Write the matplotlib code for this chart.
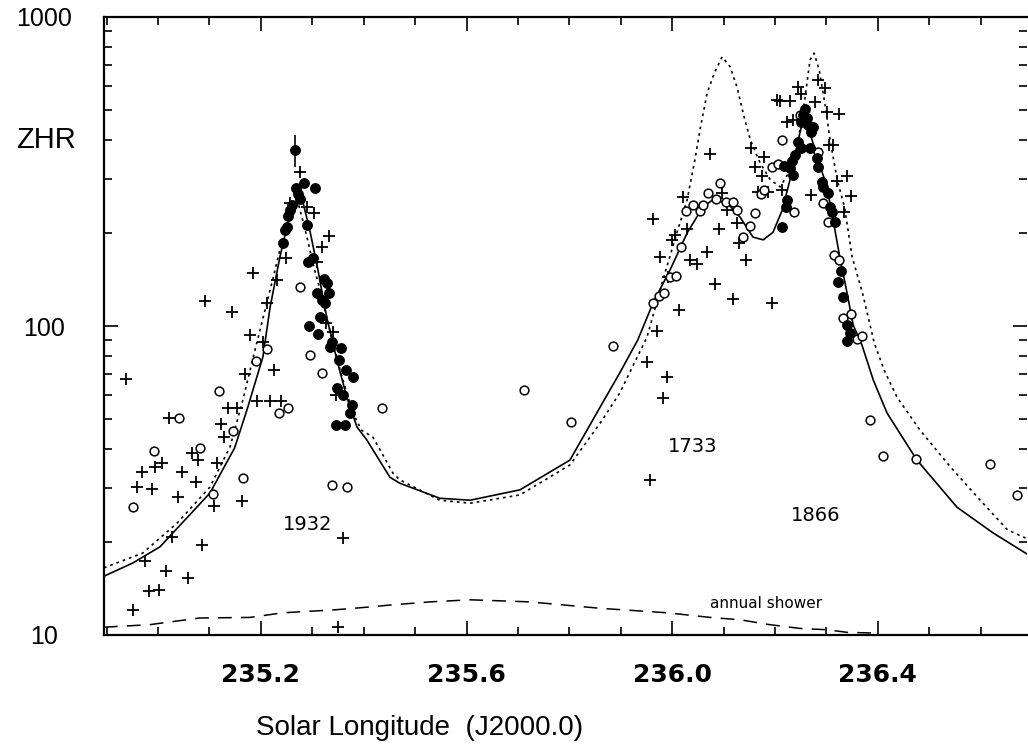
import matplotlib
matplotlib.use("Agg")
import matplotlib.pyplot as plt
from matplotlib.ticker import FixedLocator, MultipleLocator, LogLocator, NullFormatter

plt.rcParams['font.family'] = ['Liberation Sans', 'DejaVu Sans']

# model curves (solar longitude, ZHR)
solid_x = [234.895, 234.951, 235.004, 235.101, 235.149, 235.173, 235.204, 235.218, 235.237,
           235.256, 235.280, 235.295, 235.311, 235.328, 235.348, 235.367, 235.387, 235.406,
           235.451, 235.470, 235.548, 235.607, 235.704, 235.801, 235.860, 235.898, 235.933,
           235.963, 235.996, 236.029, 236.060, 236.079, 236.107, 236.132, 236.157, 236.177,
           236.196, 236.214, 236.229, 236.245, 236.258, 236.272, 236.284, 236.301, 236.313,
           236.326, 236.340, 236.352, 236.369, 236.391, 236.418, 236.476, 236.554, 236.624,
           236.692]
solid_y = [15.5, 17.1, 19.3, 28.8, 40.3, 53.5, 79.4, 115, 167,
           228, 259, 205, 152, 107, 77.6, 58.9, 47.1, 42.8,
           32.4, 31.0, 27.7, 27.3, 29.5, 36.8, 54.7, 70.5, 90.1,
           119, 152, 200, 243, 256, 250, 225, 194, 190,
           201, 237, 297, 400, 489, 400, 344, 282, 220,
           167, 128, 100.7, 86.8, 66.9, 52.2, 36.8, 25.9, 21.4,
           18.2]

dotted_x = [234.895, 234.970, 235.037, 235.101, 235.140, 235.165, 235.192, 235.223, 235.243,
            235.260, 235.272, 235.280, 235.291, 235.301, 235.319, 235.334, 235.354, 235.379,
            235.396, 235.418, 235.457, 235.470, 235.548, 235.607, 235.704, 235.801, 235.860,
            235.898, 235.951, 235.982, 236.009, 236.029, 236.044, 236.054, 236.068, 236.082,
            236.097, 236.113, 236.126, 236.140, 236.152, 236.171, 236.191, 236.210, 236.230,
            236.243, 236.257, 236.268, 236.276, 236.286, 236.298, 236.307, 236.321, 236.335,
            236.350, 236.370, 236.393, 236.412, 236.437, 236.482, 236.541, 236.599, 236.652,
            236.687]
dotted_y = [16.5, 18.4, 23.0, 30.1, 40.6, 57.6, 88.1, 141, 194,
            243, 252, 225, 190, 160, 124, 97, 72.1, 52.2,
            46.0, 43.7, 33.4, 31.8, 27.3, 26.7, 28.4, 35.5, 48.5,
            60.7, 92.1, 141, 200, 256, 344, 431, 568, 659,
            743, 689, 593, 474, 400, 337, 297, 282, 320,
            380, 527, 726, 764, 673, 512, 400, 297, 243,
            167, 128, 88.1, 72.1, 58.9, 46.0, 35.0, 27.3, 21.9,
            20.6]

annual_x = [234.895, 234.984, 235.081, 235.179, 235.243, 235.340, 235.406, 235.451, 235.529,
            235.607, 235.723, 235.860, 235.990, 236.074, 236.132, 236.190, 236.249, 236.301,
            236.340, 236.391]
annual_y = [10.6, 10.8, 11.35, 11.4, 11.8, 12.05, 12.3, 12.5, 12.8,
            13.0, 12.8, 12.2, 11.8, 11.4, 11.2, 10.8, 10.5, 10.4,
            10.2, 10.15]

# observations
plus_x = [234.937, 234.951, 234.959, 234.968, 234.974, 234.982, 235.002, 234.988, 234.994,
          235.007, 235.015, 235.021, 235.027, 235.039, 235.046, 235.058, 235.066, 235.074,
          235.077, 235.085, 235.091, 235.109, 235.114, 235.122, 235.128, 235.136, 235.144,
          235.153, 235.163, 235.169, 235.179, 235.184, 235.192, 235.204, 235.212, 235.218,
          235.225, 235.231, 235.239, 235.249, 235.256, 235.276, 235.289, 235.303, 235.319,
          235.309, 235.332, 235.326, 235.340, 235.346, 235.360, 235.350,
          235.951, 235.957, 235.963, 235.970, 235.976, 235.982, 235.990, 235.992, 236.000,
          236.005, 236.013, 236.021, 236.029, 236.035, 236.048, 236.068, 236.074, 236.083,
          236.091, 236.097, 236.107, 236.118, 236.126, 236.130, 236.144, 236.153, 236.161,
          236.179, 236.175, 236.167, 236.186, 236.194, 236.204, 236.210, 236.229, 236.214,
          236.223, 236.235, 236.245, 236.251, 236.270, 236.278, 236.284, 236.297, 236.301,
          236.305, 236.313, 236.324, 236.321, 236.340, 236.348, 236.334]
plus_y = [67.4, 12.05, 30.1, 33.7, 17.4, 13.9, 14.0, 29.7, 35.0,
          36.0, 16.1, 50.4, 20.8, 28.0, 33.7, 15.3, 38.8, 31.3,
          36.8, 19.56, 120.5, 26.1, 36.0, 48.2, 43.7, 54.3, 111.0,
          54.3, 27.1, 69.9, 93.5, 148.4, 57.2, 88.8, 118.7, 57.2,
          72.05, 140.9, 57.2, 166.1, 250.1, 315.0, 242.8, 232.1, 180.2,
          161.2, 195.6, 102.2, 95.6, 59.8, 20.6, 10.6,
          76.5, 31.74, 222.0, 96.3, 167.3, 58.5, 68.4, 144.0, 189.9,
          197.1, 112.7, 261.5, 206.1, 163.6, 158.8, 173.6, 360.3, 136.7,
          206.1, 269.4, 237.4, 122.3, 215.5, 185.6, 163.6, 376.8, 327.0,
          352.3, 305.8, 271.4, 271.4, 118.7, 538.7, 534.7, 534.7, 275.5,
          457.3, 464.2, 593.5, 563.4, 265.4, 530.8, 625.3, 589.1, 492.6,
          385.2, 385.2, 485.3, 294.7, 305.8, 263.4, 233.9]

open_x = [234.951, 234.992, 235.040, 235.081, 235.107, 235.118, 235.146, 235.165, 235.190,
          235.212, 235.235, 235.253, 235.276, 235.295, 235.319, 235.338, 235.367, 235.435,
          235.712, 235.803, 235.885,
          235.963, 235.974, 235.984, 235.996, 236.007, 236.017, 236.027, 236.040, 236.054,
          236.060, 236.070, 236.085, 236.093, 236.105, 236.118, 236.126, 236.138, 236.151,
          236.161, 236.173, 236.179, 236.194, 236.206, 236.227, 236.214, 236.237, 236.249,
          236.284, 236.293, 236.303, 236.315, 236.324, 236.332, 236.348, 236.360, 236.369,
          236.385, 236.410, 236.474, 236.618, 236.671]
open_y = [26.0, 39.4, 50.4, 40.3, 28.6, 61.6, 45.7, 32.2, 77.0,
          84.3, 52.3, 54.3, 133.7, 80.6, 70.5, 30.6, 30.1, 54.3,
          62.1, 48.9, 86.2,
          118.7, 125.1, 127.9, 144.0, 145.1, 180.2, 235.6, 246.4, 235.6,
          246.4, 269.4, 257.7, 290.3, 252.0, 252.0, 237.4, 194.2, 210.7,
          232.1, 267.4, 275.5, 327.0, 334.4, 327.0, 399.9, 233.9, 481.7,
          365.7, 250.1, 217.0, 169.8, 163.6, 106.1, 109.3, 90.8, 92.8,
          49.6, 38.0, 37.1, 35.8, 28.4]

filled_x = [235.266, 235.284, 235.305, 235.268, 235.272, 235.276, 235.260, 235.256, 235.253,
            235.251, 235.247, 235.243, 235.289, 235.291, 235.301, 235.323, 235.328, 235.309,
            235.332, 235.319, 235.325, 235.315, 235.293, 235.311, 235.338, 235.334, 235.356,
            235.352, 235.365, 235.379, 235.348, 235.360, 235.377, 235.373, 235.346, 235.363,
            236.258, 236.254, 236.262, 236.251, 236.264, 236.274, 236.270, 236.245, 236.251,
            236.268, 236.239, 236.233, 236.282, 236.229, 236.235, 236.284, 236.291, 236.293,
            236.303, 236.223, 236.221, 236.307, 236.311, 236.317, 236.214, 236.328, 236.323,
            236.332, 236.340, 236.346, 236.340, 236.218]
filled_y = [371.2, 290.3, 279.6, 279.6, 267.4, 257.7, 246.4, 237.4, 227.0,
            209.2, 204.6, 185.6, 212.3, 161.2, 166.1, 142.0, 137.7, 127.9,
            127.9, 121.4, 118.7, 106.9, 100.0, 94.2, 88.8, 85.5, 84.9,
            77.6, 72.05, 68.4, 63.0, 59.8, 55.5, 52.3, 47.8, 47.8,
            503.7, 481.7, 471.2, 457.3, 447.2, 440.6, 424.4, 394.0, 376.8,
            376.8, 357.6, 342.0, 349.6, 324.6, 308.1, 327.0, 292.6, 281.8,
            269.4, 255.8, 242.8, 242.8, 233.9, 217.0, 209.2, 150.7, 138.8,
            123.8, 100.7, 95.0, 89.4, 329.4]

# error bar on the 1932 maximum
err_x = [235.266]
err_lo = [327.0]
err_hi = [415.0]

labels = ['1932', '1733', '1866', 'annual shower']
label_x = [235.291, 236.040, 236.278, 236.182]
label_y = [22.7, 40.6, 24.45, 12.6]
label_size = [14, 14, 14, 11]

fig = plt.figure(figsize=(10.28, 7.55), dpi=100)
ax = fig.add_axes([104 / 1028, 1 - 635 / 755, (1027 - 104) / 1028, (635 - 17) / 755])

ax.plot(solid_x, solid_y, '-', color='k', lw=1.2, zorder=2)
ax.plot(dotted_x, dotted_y, color='k', lw=1.2, linestyle=(0, (1.6, 2.4)), zorder=2)
ax.plot(annual_x, annual_y, color='k', lw=1.1, linestyle=(0, (9, 6)), zorder=2)
ax.vlines(err_x, err_lo, err_hi, color='k', lw=1.2, zorder=3)
ax.plot(plus_x, plus_y, '+', color='k', ms=8, mew=1.3, zorder=3)
ax.plot(open_x, open_y, 'o', mfc='white', mec='k', ms=6.3, mew=1.1, zorder=4)
ax.plot(filled_x, filled_y, 'o', color='k', ms=6.8, zorder=5)

for t, x, y, s in zip(labels, label_x, label_y, label_size):
    ax.text(x, y, t, ha='center', va='center', fontsize=s, family='DejaVu Sans')

ax.set_yscale('log')
ax.set_xlim(234.895, 236.69)
ax.set_ylim(10, 1000)

ax.xaxis.set_major_locator(FixedLocator([235.2, 235.6, 236.0, 236.4]))
ax.xaxis.set_minor_locator(MultipleLocator(0.1))
ax.yaxis.set_major_locator(FixedLocator([10, 100, 1000]))
ax.yaxis.set_minor_locator(LogLocator(base=10, subs=[2, 3, 4, 5, 6, 7, 8, 9]))
ax.yaxis.set_minor_formatter(NullFormatter())
ax.set_xticklabels(['235.2', '235.6', '236.0', '236.4'], family='DejaVu Sans',
                   fontweight='bold', fontsize=18)
ax.set_yticklabels(['10', '100', '1000'], fontsize=18, ha='center')

ax.tick_params(which='both', direction='in', top=True, right=True, width=1.2)
ax.tick_params(which='major', length=10)
ax.tick_params(which='minor', length=6)
ax.tick_params(axis='x', pad=20)
ax.tick_params(axis='y', pad=43)

for side in ['left', 'bottom', 'top']:
    ax.spines[side].set_linewidth(1.6)
ax.spines['right'].set_visible(False)

fig.text(46 / 1028, 1 - 140 / 755, 'ZHR', ha='center', va='center', fontsize=21)
fig.text(420 / 1028, 1 - 728 / 755, 'Solar Longitude  (J2000.0)', ha='center', va='center',
         fontsize=20)

fig.savefig('out.png', dpi=100)
